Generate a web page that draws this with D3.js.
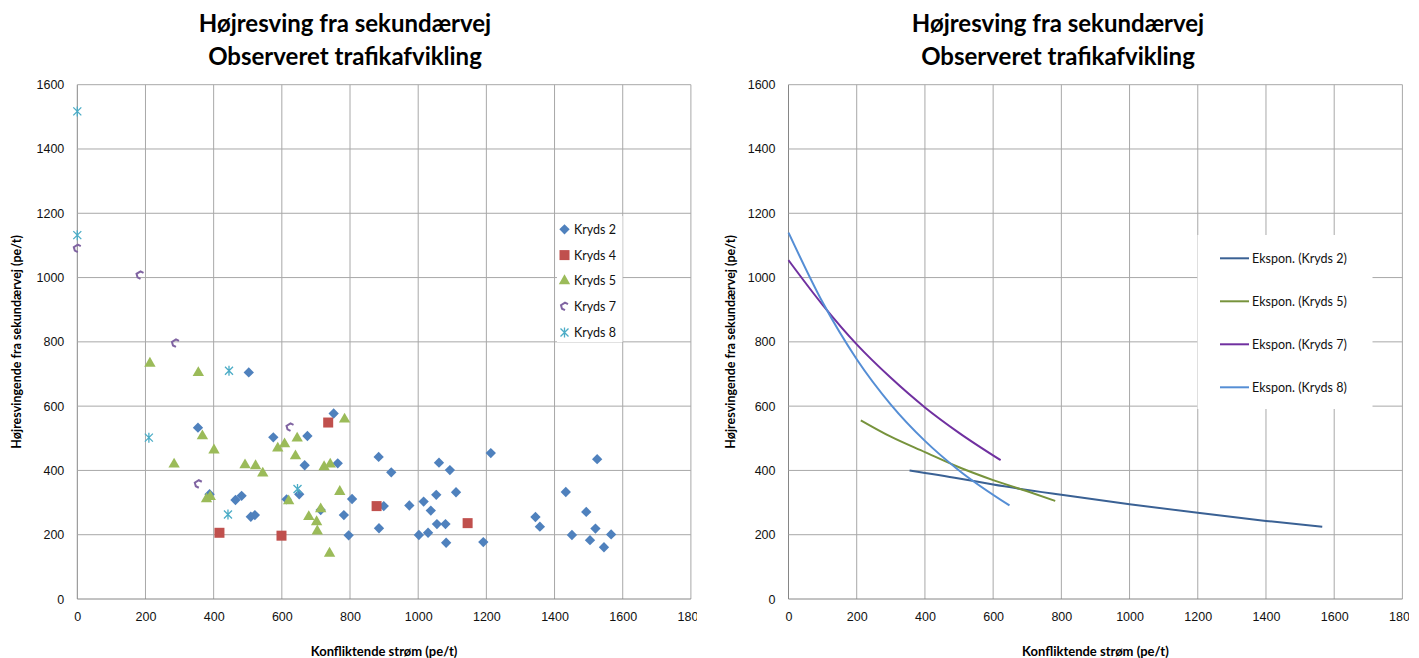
<!DOCTYPE html>
<html>
<head>
<meta charset="utf-8">
<script src="https://cdn.jsdelivr.net/npm/d3@7"></script>
<style>
    body { margin: 0; background: #fff; }
    svg { font-family: Lato, "Open Sans", sans-serif; }
    .tick text { font-size: 12.5px; fill: #111; }
    .chartTitle { font-size: 24px; font-weight: bold; text-anchor: middle; }
    .axisLabel { font-size: 13px; font-weight: bold; text-anchor: middle; }
    .yLabel { font-size: 12.5px; }
    .legendText { font-size: 12.5px; fill: #111; }
</style>
</head>
<body>
<svg id="chart" width="1419" height="658"></svg>
<script>
//////////////////// DATA ////////////////////
// scatter points [konfliktende strøm, højresvingende] per kryds
const kryds2 = [
    [503, 705], [354, 533], [575, 503], [675, 507], [752, 577], [667, 416], [764, 422],
    [388, 326], [464, 308], [482, 321], [509, 256], [521, 261], [614, 310], [651, 326],
    [714, 277], [806, 311], [782, 261], [796, 198], [884, 442], [921, 394], [899, 289],
    [885, 220], [974, 291], [1016, 303], [1053, 324], [1037, 275], [1061, 424], [1093, 401],
    [1111, 332], [1055, 233], [1080, 233], [1002, 199], [1029, 206], [1082, 175], [1191, 177],
    [1213, 454], [1344, 255], [1357, 225], [1433, 333], [1525, 435], [1493, 271], [1520, 219],
    [1451, 199], [1504, 183], [1566, 201], [1545, 161]
];
const kryds4 = [[736, 549], [417, 206], [599, 197], [878, 289], [1145, 236]];
const kryds5 = [
    [213, 733], [355, 704], [367, 507], [401, 463], [284, 419], [379, 311], [390, 318],
    [492, 417], [523, 414], [544, 391], [588, 469], [608, 482], [645, 500], [640, 445],
    [620, 305], [724, 411], [742, 419], [784, 559], [770, 334], [679, 256], [714, 280],
    [702, 240], [704, 211], [740, 142]
];
const kryds7 = [[0, 1090], [184, 1007], [288, 795], [624, 534], [355, 357]];
const kryds8 = [[0, 1517], [0, 1132], [445, 710], [210, 502], [442, 263], [646, 342]];

// exponential trend lines
const trend2 = [[355, 400], [500, 375], [600, 356], [800, 324], [1000, 295], [1200, 268], [1400, 243], [1565, 225]];
const trend5 = [[212, 556], [300, 505], [400, 457], [500, 410], [600, 370], [700, 335], [782, 305]];
const trend7 = [[0, 1054], [100, 915], [200, 792], [300, 688], [400, 596], [500, 517], [622, 432]];
const trend8 = [[0, 1140], [100, 923], [200, 746], [300, 605], [400, 492], [500, 400], [648, 291]];

const scatterNames = ["Kryds 2", "Kryds 4", "Kryds 5", "Kryds 7", "Kryds 8"];
const trendNames = ["Ekspon. (Kryds 2)", "Ekspon. (Kryds 5)", "Ekspon. (Kryds 7)", "Ekspon. (Kryds 8)"];
const xTicks = [0, 200, 400, 600, 800, 1000, 1200, 1400, 1600, 1800];
const yTicks = [0, 200, 400, 600, 800, 1000, 1200, 1400, 1600];

const titleLines = ["Højresving fra sekundærvej", "Observeret trafikafvikling"];
const xTitle = "Konfliktende strøm (pe/t)";
const yTitle = "Højresvingende fra sekundærvej (pe/t)";


//////////////////// HANDLE SIZES ////////////////////
const panels = [
    { left: 77.3, right: 690.9, titleX: 345, yTitleX: 17, clipRight: 697 },
    { left: 788.5, right: 1402.4, titleX: 1058, yTitleX: 731, clipRight: 1409 }
];
const plotTop = 84.7;
const plotBottom = 599;

const svg = d3.select("#chart");
const gridColor = "#a8a8a8";
const axisColor = "#868686";


//////////////////// DRAW PANEL FRAME ////////////////////
function drawFrame(p, i) {
    const x = d3.scaleLinear().domain([0, 1800]).range([p.left, p.right]);
    const y = d3.scaleLinear().domain([0, 1600]).range([plotBottom, plotTop]);
    const g = svg.append("g");

    // grid
    g.selectAll(".vgrid").data(xTicks).enter().append("line")
        .attr("x1", d => x(d)).attr("x2", d => x(d))
        .attr("y1", plotTop).attr("y2", plotBottom)
        .attr("stroke", d => d === 0 ? axisColor : gridColor)
        .attr("stroke-width", 1);
    g.selectAll(".hgrid").data(yTicks).enter().append("line")
        .attr("x1", p.left).attr("x2", p.right)
        .attr("y1", d => y(d)).attr("y2", d => y(d))
        .attr("stroke", d => d === 0 ? axisColor : gridColor)
        .attr("stroke-width", 1);

    // clip for x tick labels (last label is cut in the original)
    // clip rect lives in the axis group's own (translated) coordinates
    svg.append("clipPath").attr("id", "clip" + i)
        .append("rect").attr("x", p.left - 30).attr("y", 0).attr("width", p.clipRight - p.left + 30).attr("height", 40);

    const xAxis = d3.axisBottom(x).tickValues(xTicks).tickSize(0).tickPadding(13).tickFormat(d3.format("d"));
    g.append("g")
        .attr("transform", `translate(0, ${plotBottom})`)
        .attr("clip-path", `url(#clip${i})`)
        .call(xAxis)
        .call(a => a.select(".domain").remove());

    const yAxis = d3.axisLeft(y).tickValues(yTicks).tickSize(0).tickPadding(13).tickFormat(d3.format("d"));
    g.append("g")
        .attr("transform", `translate(${p.left}, 0)`)
        .call(yAxis)
        .call(a => a.select(".domain").remove());

    // titles
    svg.append("text").attr("class", "chartTitle").attr("x", p.titleX).attr("y", 32).text(titleLines[0]);
    svg.append("text").attr("class", "chartTitle").attr("x", p.titleX).attr("y", 65).text(titleLines[1]);
    svg.append("text").attr("class", "axisLabel").attr("x", (p.left + p.right) / 2).attr("y", 656).text(xTitle);
    const cy = (plotTop + plotBottom) / 2;
    svg.append("text").attr("class", "axisLabel yLabel")
        .attr("transform", `rotate(-90, ${p.yTitleX}, ${cy})`)
        .attr("x", p.yTitleX).attr("y", cy + 4.5).text(yTitle);

    return { x, y };
}


//////////////////// MARKERS ////////////////////
const markerDefs = [
    { color: "#4F81BD", path: d3.symbol(d3.symbolDiamond2, 68)(), fill: true },
    { color: "#C0504D", path: d3.symbol(d3.symbolSquare, 100)(), fill: true },
    { color: "#9BBB59", path: d3.symbol(d3.symbolTriangle, 56)(), fill: true },
    { color: "#8064A2", path: "M3.5,-2.5 L0.5,-4 L-3.5,-1.5 L-2.5,2 L0.5,3.5", fill: false, width: 2 },
    { color: "#4BACC6", path: "M-4,-4 L4,4 M-4,4 L4,-4 M0,-5 L0,5", fill: false, width: 1.3 }
];

function drawMarkers(g, pts, m, sx, sy) {
    g.selectAll(null).data(pts).enter().append("path")
        .attr("transform", d => `translate(${sx(d[0])}, ${sy(d[1])})`)
        .attr("d", m.path)
        .attr("fill", m.fill ? m.color : "none")
        .attr("stroke", m.fill ? "none" : m.color)
        .attr("stroke-width", m.width || 0);
}


//////////////////// LEFT: SCATTER ////////////////////
const left = drawFrame(panels[0], 0);
const scatterG = svg.append("g");
const scatterSeries = [kryds2, kryds4, kryds5, kryds7, kryds8];

// legend box (covers grid)
svg.append("rect").attr("x", 557).attr("y", 216).attr("width", 65.5).attr("height", 126).attr("fill", "#fff");

scatterSeries.forEach((s, i) => drawMarkers(scatterG, s, markerDefs[i], left.x, left.y));

scatterNames.forEach((name, i) => {
    const ly = 229.3 + i * 25.8;
    const m = markerDefs[i];
    const lg = svg.append("g").attr("transform", `translate(564.5, ${ly})`);
    lg.append("path").attr("d", m.path)
        .attr("fill", m.fill ? m.color : "none")
        .attr("stroke", m.fill ? "none" : m.color)
        .attr("stroke-width", m.width || 0);
    svg.append("text").attr("class", "legendText").attr("x", 574).attr("y", ly + 4.5).text(name);
});


//////////////////// RIGHT: TREND LINES ////////////////////
const right = drawFrame(panels[1], 1);
const trendSeries = [trend2, trend5, trend7, trend8];
const trendColors = ["#3A6194", "#77933C", "#7030A0", "#558ED5"];

svg.append("rect").attr("x", 1197.5).attr("y", 235).attr("width", 175).attr("height", 174).attr("fill", "#fff");

const lineGenerator = d3.line()
    .x(d => right.x(d[0]))
    .y(d => right.y(d[1]))
    .curve(d3.curveMonotoneX);

trendSeries.forEach((s, i) => {
    svg.append("path")
        .attr("d", lineGenerator(s))
        .attr("fill", "none")
        .attr("stroke", trendColors[i])
        .attr("stroke-width", 2);
});

trendNames.forEach((name, i) => {
    const ly = 258.3 + i * 43;
    svg.append("line").attr("x1", 1220).attr("x2", 1249).attr("y1", ly).attr("y2", ly)
        .attr("stroke", trendColors[i]).attr("stroke-width", 2);
    svg.append("text").attr("class", "legendText").attr("x", 1252).attr("y", ly + 4.5).text(name);
});
</script>
</body>
</html>
